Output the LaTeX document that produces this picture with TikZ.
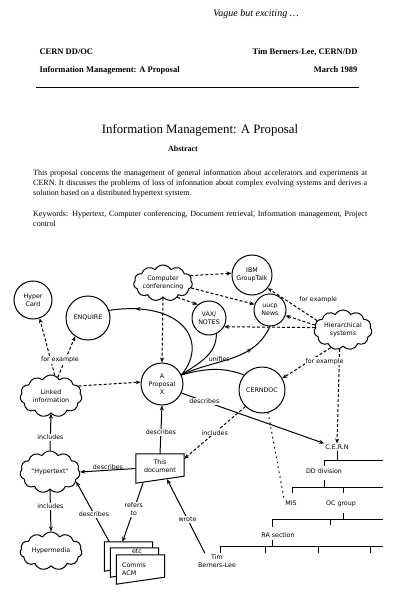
\documentclass[tikz,border=0pt]{standalone}
\usepackage{fontspec}
\setmainfont{Liberation Serif}
\newfontfamily\diagfont{DejaVu Sans}
\usetikzlibrary{positioning, arrows.meta, shapes.symbols, decorations.markings, calc}

% a document page with a slanted lower edge, and its text
\newcommand{\docpage}[4]{%
  \node[pageframe] (#1) at (#2) {};
  \filldraw[fill=white, line width=1pt] (#1.north west) -- (#1.north east)
    -- ([yshift=7pt]#1.south east) -- (#1.south west) -- cycle;
  \node[pagetext, #3] (#1-text) at (#1) {#4};
}

\begin{document}
\begin{tikzpicture}[
    x=1pt, y=-1pt,
    >={Stealth[length=5pt, width=4pt]},
    diag/.style={font=\diagfont\fontsize{6.3}{8}\selectfont},
    bubble/.style={circle, draw, line width=1pt, minimum size=#1,
      inner sep=0pt, align=center, diag},
    puff/.style={cloud, draw, line width=1pt, cloud puffs=11,
      cloud puff arc=120, cloud ignores aspect, inner sep=0pt,
      align=center, diag},
    lab/.style={diag, fill=white, inner sep=1pt},
    link/.style={->, line width=1pt},
    hint/.style={->, line width=1pt, dash pattern=on 3pt off 2pt},
    trail/.style={line width=1pt, dash pattern=on 1pt off 4pt, line cap=round},
    chart/.style={line width=1pt},
    midarrow/.style={postaction={decorate}, decoration={markings,
        mark=at position #1 with {\arrow{>}}}},
    pageframe/.style={rectangle, minimum width=48pt, minimum height=29pt, inner sep=0pt},
    pagetext/.style={diag, align=center, inner sep=0pt},
    org/.style={diag, inner sep=1pt},
  ]
  \useasboundingbox (0,0) rectangle (400,601);

  % heading of the page
  \node[font=\itshape\fontsize{10}{12}\selectfont] (remark) at (256,14) {Vague but exciting \dots};
  \node[anchor=base west, font=\bfseries\fontsize{8.5}{10}\selectfont] (series) at (36,55) {CERN DD/OC};
  \node[anchor=base east, font=\bfseries\fontsize{8.5}{10}\selectfont] (author) at (361,55) {Tim Berners-Lee, CERN/DD};
  \node[anchor=base west, font=\bfseries\fontsize{8.5}{10}\selectfont] (shorttitle) at (36,73) {Information Management: A Proposal};
  \node[anchor=base east, font=\bfseries\fontsize{8.5}{10}\selectfont] (date) at (361,73) {March 1989};
  \draw[line width=0.6pt] (36,87) -- (359,87);

  \node[font=\fontsize{12.8}{15}\selectfont] (title) at (200,130) {Information Management: A Proposal};
  \node[font=\bfseries\fontsize{8}{10}\selectfont] (abstract) at (183,149) {Abstract};
  \node[anchor=north west, text width=334pt, align=justify, inner sep=0pt,
    font=\fontsize{8}{10}\selectfont] (summary) at (33,170)
    {This proposal concerns the management of general information about accelerators and experiments at\linebreak
     CERN. It discusses the problems of loss of infonnation about complex evolving systems and derives a\linebreak
     solution based on a distributed hypertext sytstem.};
  \node[anchor=north west, text width=334pt, align=justify, inner sep=0pt,
    font=\fontsize{8}{10}\selectfont] (keywords) at (33,211)
    {Keywords: Hypertext, Computer conferencing, Document retrieval, Information management, Project\linebreak
     control};

  % the diagram
  \node[puff, minimum width=56pt, minimum height=36pt] (confer) at (163,283) {Computer\\conferencing};
  \node[bubble=40pt] (grouptalk) at (252,275) {IBM\\GroupTalk};
  \node[bubble=32pt] (uucp) at (270,310) {uucp\\News};
  \node[bubble=34pt] (vaxnotes) at (209,318) {VAX/\\NOTES};
  \node[puff, minimum width=58pt, minimum height=40pt] (hier) at (343,330) {Hierarchical\\systems};
  \node[bubble=38pt] (hypercard) at (33,300) {Hyper\\Card};
  \node[bubble=44pt] (enquire) at (88,318) {ENQUIRE};
  \node[bubble=42pt] (proposal) at (162,384) {A\\Proposal\\X};
  \node[bubble=46pt] (cerndoc) at (262,390) {CERNDOC};
  \node[puff, minimum width=62pt, minimum height=42pt] (linked) at (51,396) {Linked\\information};
  \node[puff, minimum width=60pt, minimum height=42pt] (hypertext) at (50,472) {"Hypertext"};
  \node[puff, minimum width=62pt, minimum height=38pt] (hypermedia) at (51,551) {Hypermedia};

  \docpage{thisdoc}{160,468.5}{yshift=2pt}{This\\document}
  \docpage{acmA}{128.5,556.5}{}{}
  \docpage{acmB}{134.5,562.5}{xshift=2.5pt, yshift=11pt}{etc}
  \docpage{acmC}{140.5,569.5}{anchor=west, xshift=-18.5pt, align=left}{Comms\\ACM}

  % organisation chart
  \node[org] (cern) at (337,447) {C.E.R.N};
  \node[org] (dd) at (324,471) {DD division};
  \node[org] (mis) at (291,503) {MIS};
  \node[org] (ocgroup) at (341,504) {OC group};
  \node[org] (rasection) at (278,535) {RA section};
  \node[org, align=center] (tim) at (217,561) {Tim\\Berners-Lee};

  \draw[chart] (cern.south) -- (cern.south |- 0,460);
  \draw[chart] (324,460) -- (383,460) (324,460) -- (324,466);
  \draw[chart] (292,487) -- (383,487) (324,487) -- (324,480);
  \foreach \x in {292,343} \draw[chart] (\x,487) -- ++(0,6);
  \draw[chart] (272,519) -- (383,519) (343,519) -- (343,513);
  \foreach \x/\l in {272/8,330/6} \draw[chart] (\x,519) -- ++(0,\l);
  \draw[chart] (220,546) -- (383,546) (272,546) -- (272,540);
  \foreach \x in {220,265,318,370} \draw[chart] (\x,546) -- ++(0,7);

  % connectors
  \draw[hint] (confer.15) -- (grouptalk.175);
  \draw[hint] (confer.-10) -- (uucp.160);
  \draw[hint] (confer.-45) -- (vaxnotes.130);
  \draw[hint] (confer.south) -- (proposal.north);

  \draw[hint] (hier.160) -- node[lab, pos=0.45, anchor=south west, xshift=3pt, yshift=2pt] {for example} (grouptalk.-40);
  \draw[hint] (hier.170) -- (uucp.-20);
  \draw[hint] (hier.175) -- (vaxnotes.-30);
  \draw[hint] (hier.-100) -- (cern.north);
  \draw[hint] (hier.235) -- node[lab, pos=0.25, xshift=6pt, yshift=-6pt] {for example} (cerndoc.30);

  \draw[hint] (linked.80) -- (hypercard.-70);
  \draw[hint] (linked.70) -- node[lab, pos=0.5, xshift=-6.5pt, yshift=-3pt] {for example} (enquire.-125);
  \draw[hint] (linked.20) -- (proposal.175);

  \draw[link] (hypertext.north) -- node[lab, pos=0.35] {includes} (linked.south);
  \draw[link] (hypertext.south) -- node[lab, pos=0.4] {includes} (hypermedia.north);

  \coordinate (fan) at (proposal.25);
  \draw[line width=1pt, midarrow=0.8] (fan) .. controls (210,340) and (180,300) .. (enquire.20);
  \draw[line width=1pt] (fan) to[out=35, in=-90] (vaxnotes.-65);
  \draw[line width=1pt, midarrow=0.72] (fan) to[out=25, in=-115]
    node[diag, pos=0.36, above, inner sep=0.5pt] {unifies} (uucp.south);
  \draw[line width=1pt] (fan) to[out=15, in=160] (cerndoc.140);
  \draw[link] (proposal.-25) -- node[lab, pos=0.16] {describes} (cern.north west);

  \draw[link] (thisdoc.north) -- node[lab, pos=0.45] {describes} (proposal.south);
  \draw[link] (thisdoc.west) -- node[diag, above, inner sep=0.5pt] {describes} (hypertext.east);
  \draw[hint] (cerndoc.-135) -- node[lab] {includes} ([yshift=-5pt]thisdoc.north east);
  \draw[trail] (cerndoc.-75) -- (mis.north west);

  \draw[link] ([xshift=5pt]acmA.north west) -- node[lab, pos=0.46] {describes} (hypertext.-20);
  \draw[link] ([xshift=-17pt]thisdoc.south) -- node[lab, pos=0.45, align=center] {refers\\to} ([xshift=-6pt]acmA.north);
  \draw[link] ([xshift=-12pt]tim.north) -- node[lab, pos=0.46] {wrote} ([xshift=7pt, yshift=4pt]thisdoc.south);
\end{tikzpicture}
\end{document}
